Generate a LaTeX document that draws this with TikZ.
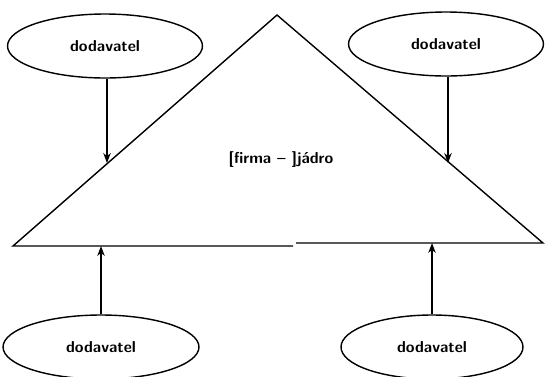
\documentclass[tikz,border=0pt]{standalone}
\usepackage{tikz}
\usetikzlibrary{arrows.meta,shapes.geometric}
\tikzset{
  snode/.style={ellipse,draw,thick,inner sep=1pt,font=\sffamily\bfseries\small,minimum width=3.9cm,minimum height=1.28cm},
  de/.style={-{Stealth[length=2mm]},thick}
}

\begin{document}
\begin{tikzpicture}[x=0.02cm,y=-0.02cm]
\useasboundingbox (0,0) rectangle (545,376);
% core triangle, base drawn in two pieces
\coordinate (A) at (277,15);
\coordinate (L) at (13,246);
\coordinate (R) at (543,243);
\coordinate (m1) at (293,246);
\coordinate (m2) at (296,243);
\draw[thick,line join=miter] (m1) -- (L) -- (A) -- (R) -- (m2);
\node[font=\sffamily\bfseries\small] (core) at (281,160) {[firma -- ]jádro};
% suppliers
\node[snode] (s1) at (105,46) {dodavatel};
\node[snode] (s2) at (446,44) {dodavatel};
\node[snode,minimum width=3.92cm] (s3) at (101,347) {dodavatel};
\node[snode,minimum width=3.64cm] (s4) at (432,347) {dodavatel};
\coordinate (e1) at (107,163);
\coordinate (e2) at (448,163);
\draw[de] (s1.south -| e1) -- (e1);
\draw[de] (s2.south -| e2) -- (e2);
\draw[de] (s3) -- (s3.north |- L);
\draw[de] (s4) -- (s4.north |- R);
\end{tikzpicture}
\end{document}
